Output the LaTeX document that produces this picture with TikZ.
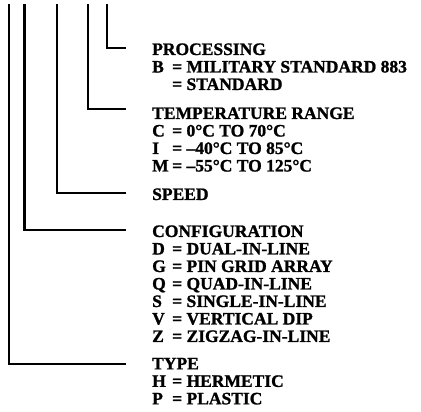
\documentclass[tikz,border=0pt]{standalone}
\usepackage{fontspec}
\setmainfont{Liberation Serif}[FakeBold=1.2]
\newcommand{\ky}[1]{\makebox[20bp][l]{#1}}
\begin{document}
\lineskiplimit=-100pt
\begin{tikzpicture}[x=1bp,y=-1bp,
  lead/.style={line width=2.9bp},
  grp/.style={anchor=north west,inner sep=0pt,align=left,
    font=\fontsize{17.5bp}{17.5bp}\selectfont\bfseries}]
\useasboundingbox (0,0) rectangle (421,412);
% text groups
\node[grp] (proc) at (152,43.2) {PROCESSING\\\ky{B}= MILITARY STANDARD 883\\\ky{}= STANDARD};
\node[grp] (temp) at (152,107.2) {TEMPERATURE RANGE\\\ky{C}= 0°C TO 70°C\\\ky{I}= –40°C TO 85°C\\\ky{M}= –55°C TO 125°C};
\node[grp] (speed) at (152,188.2) {SPEED};
\node[grp] (conf) at (152,225.2) {CONFIGURATION\\\ky{D}= DUAL-IN-LINE\\\ky{G}= PIN GRID ARRAY\\\ky{Q}= QUAD-IN-LINE\\\ky{S}= SINGLE-IN-LINE\\\ky{V}= VERTICAL DIP\\\ky{Z}= ZIGZAG-IN-LINE};
\node[grp] (type) at (152,357.7) {TYPE\\\ky{H}= HERMETIC\\\ky{P}= PLASTIC};
% free ends at the top
\coordinate (tType) at (9,4);
\coordinate (tConf) at (24.5,4);
\coordinate (tSpeed) at (57,4);
\coordinate (tTemp) at (88,4);
\coordinate (tProc) at (107,4);
% connectors
\draw[lead] (tProc) |- ([shift={(-26,4.8)}]proc.north west);
\draw[lead] (tTemp) |- ([shift={(-26,1.8)}]temp.north west);
\draw[lead] (tSpeed) |- ([shift={(-26,4.8)}]speed.north west);
\draw[lead] (tConf) |- ([shift={(-26,4.8)}]conf.north west);
\draw[lead] (tType) |- ([shift={(-26,6.3)}]type.north west);
\end{tikzpicture}
\end{document}
